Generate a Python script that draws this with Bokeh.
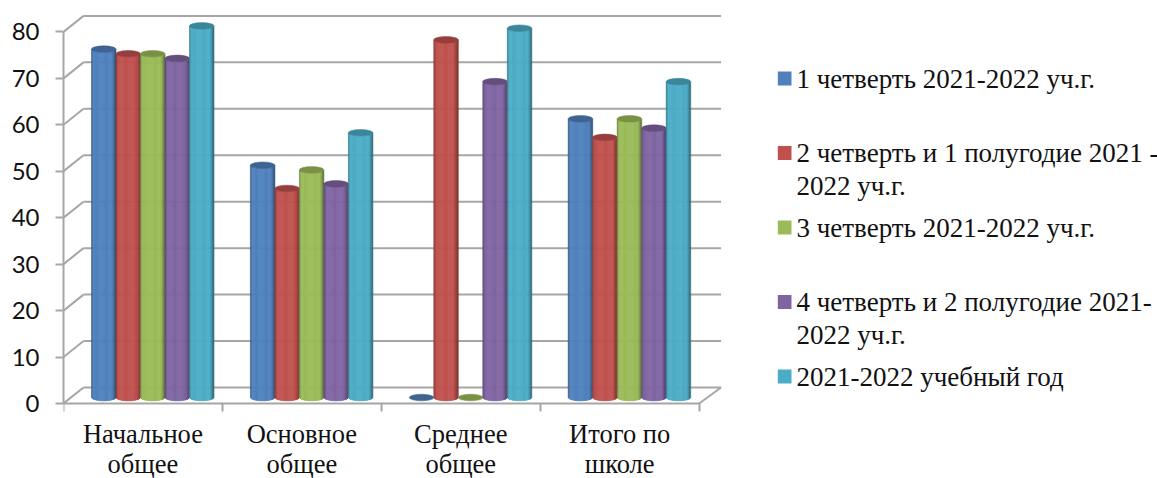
import numpy as np
from bokeh.plotting import figure
from bokeh.models import Range1d, FixedTicker
from bokeh.core.properties import value
from bokeh.embed import file_html
from bokeh.resources import INLINE

categories = ["Начальное\nобщее", "Основное\nобщее", "Среднее\nобщее", "Итого по\nшколе"]
s1 = [75, 50, 0, 60]
s2 = [74, 45, 77, 56]
s3 = [74, 49, 0, 60]
s4 = [73, 46, 68, 58]
s5 = [80, 57, 79.5, 68]
series = [s1, s2, s3, s4, s5]
names = ["1 четверть 2021-2022 уч.г.",
         "2 четверть и 1 полугодие 2021 -\n2022 уч.г.",
         "3 четверть 2021-2022 уч.г.",
         "4 четверть и 2 полугодие 2021-\n2022 уч.г.",
         "2021-2022 учебный год"]
colors = ["#4F81BD", "#C0504D", "#9BBB59", "#8064A2", "#4BACC6"]
y_ticks = [0, 10, 20, 30, 40, 50, 60, 70, 80]
GRID = "#a6a6a6"

W, H = 1157, 478
LEFT = 63
PX_X = 158.9      # px per category
PX_Y = 4.645      # px per value unit

p = figure(width=W, height=H, output_backend="svg", toolbar_location=None,
           min_border_left=LEFT, min_border_right=0, min_border_top=0, min_border_bottom=0,
           x_range=Range1d(0, (W - LEFT) / PX_X), y_range=Range1d((403 - H) / PX_Y, 403 / PX_Y),
           outline_line_color=None, background_fill_color="white", border_fill_color="white")
p.grid.visible = False

# axes
ya = p.yaxis[0]
ya.ticker = FixedTicker(ticks=y_ticks)
ya.bounds = (0, 80)
ya.minor_tick_line_color = None
ya.axis_line_color = GRID
ya.axis_line_width = 2
ya.major_tick_line_color = GRID
ya.major_tick_line_width = 2
ya.major_tick_in = 0
ya.major_tick_out = 8
ya.major_label_text_font = "Lato"
ya.major_label_text_font_size = "24px"
ya.major_label_text_color = "#111111"
ya.major_label_standoff = 16

xa = p.xaxis[0]
n = len(categories)
xa.fixed_location = 0
xa.ticker = FixedTicker(ticks=[i + 0.5 for i in range(n)], minor_ticks=list(range(n + 1)))
xa.major_label_overrides = {i + 0.5: c for i, c in enumerate(categories)}
xa.bounds = (0, n)
xa.axis_line_color = GRID
xa.axis_line_width = 2
xa.major_tick_line_color = None
xa.major_tick_in = 0
xa.major_tick_out = 0
xa.minor_tick_line_color = GRID
xa.minor_tick_line_width = 2
xa.minor_tick_in = 0
xa.minor_tick_out = 8
xa.major_label_text_font = "Liberation Serif"
xa.major_label_text_font_size = "26.5px"
xa.major_label_text_color = "#111111"
xa.major_label_text_line_height = 1.0
xa.major_label_standoff = 7


def dx(px):
    return (px - LEFT) / PX_X


def dy(py):
    return (403 - py) / PX_Y


# 3-D wall and floor
DX = 20 / PX_X
DY = 16 / PX_Y
RIGHT = n + 22 / PX_X
gx0, gx1, gy0, gy1 = [], [], [], []
for t in y_ticks:
    gx0 += [0, DX]; gx1 += [DX, RIGHT]
    gy0 += [t, t + DY]; gy1 += [t + DY, t + DY]
gx0.append(n); gx1.append(RIGHT); gy0.append(0); gy1.append(DY)
p.segment(gx0, gy0, gx1, gy1, line_color=GRID, line_width=2)

# cylinders
BAR_W = 24.5 / PX_X
START = 28 / PX_X
BASE = 6 / PX_Y
EH = 3.3 / PX_Y
NS = 22


def darker(c, f):
    r, g, b = int(c[1:3], 16), int(c[3:5], 16), int(c[5:7], 16)
    return "#%02x%02x%02x" % (int(r * f), int(g * f), int(b * f))


def shade(t):
    # round-body lighting: dark at both rims, stronger on the right
    left = 0.38 * max(0, 1 - t / 0.1) ** 1.5
    right = 0.42 * max(0, 1 - (1 - t) / 0.18) ** 1.5
    return 1 - left - right


for c in range(n):
    for k, (vals, col) in enumerate(zip(series, colors)):
        v = vals[c]
        x0 = c + START + k * BAR_W
        if v > 0:
            xs, ys, fills = [], [], []
            for i in range(NS):
                t0, t1 = i / NS, (i + 1) / NS
                tt = np.array([t0, t1])
                arc = EH * np.sqrt(np.clip(1 - (2 * tt - 1) ** 2, 0, 1))
                px = x0 + tt * BAR_W
                top = BASE + v - arc
                bot = BASE - arc
                xs.append([px[0], px[1], px[1], px[0]])
                ys.append([top[0], top[1], bot[1], bot[0]])
                fills.append(darker(col, shade((t0 + t1) / 2)))
            p.patches(xs, ys, fill_color=fills, line_color=fills, line_width=0.6)
        p.ellipse([x0 + BAR_W / 2], [BASE + v], width=BAR_W, height=2 * EH,
                  fill_color=darker(col, 0.78), line_color=darker(col, 0.78), line_width=0.5)

# legend
LEG_Y = [71, 145.5, 220, 294.5, 369]
for name, col, ly in zip(names, colors, LEG_Y):
    p.quad(left=[dx(777.3)], right=[dx(791)], top=[dy(ly)], bottom=[dy(ly + 14)],
           fill_color=col, line_color=None)
    p.text([dx(796)], [dy(ly - 8)], text=[name], text_font=value("Liberation Serif"),
           text_font_size="27px", text_color="#111111", text_baseline="top", text_align="left",
           text_line_height=1.1)

open("out.html", "w").write(file_html(p, INLINE))
